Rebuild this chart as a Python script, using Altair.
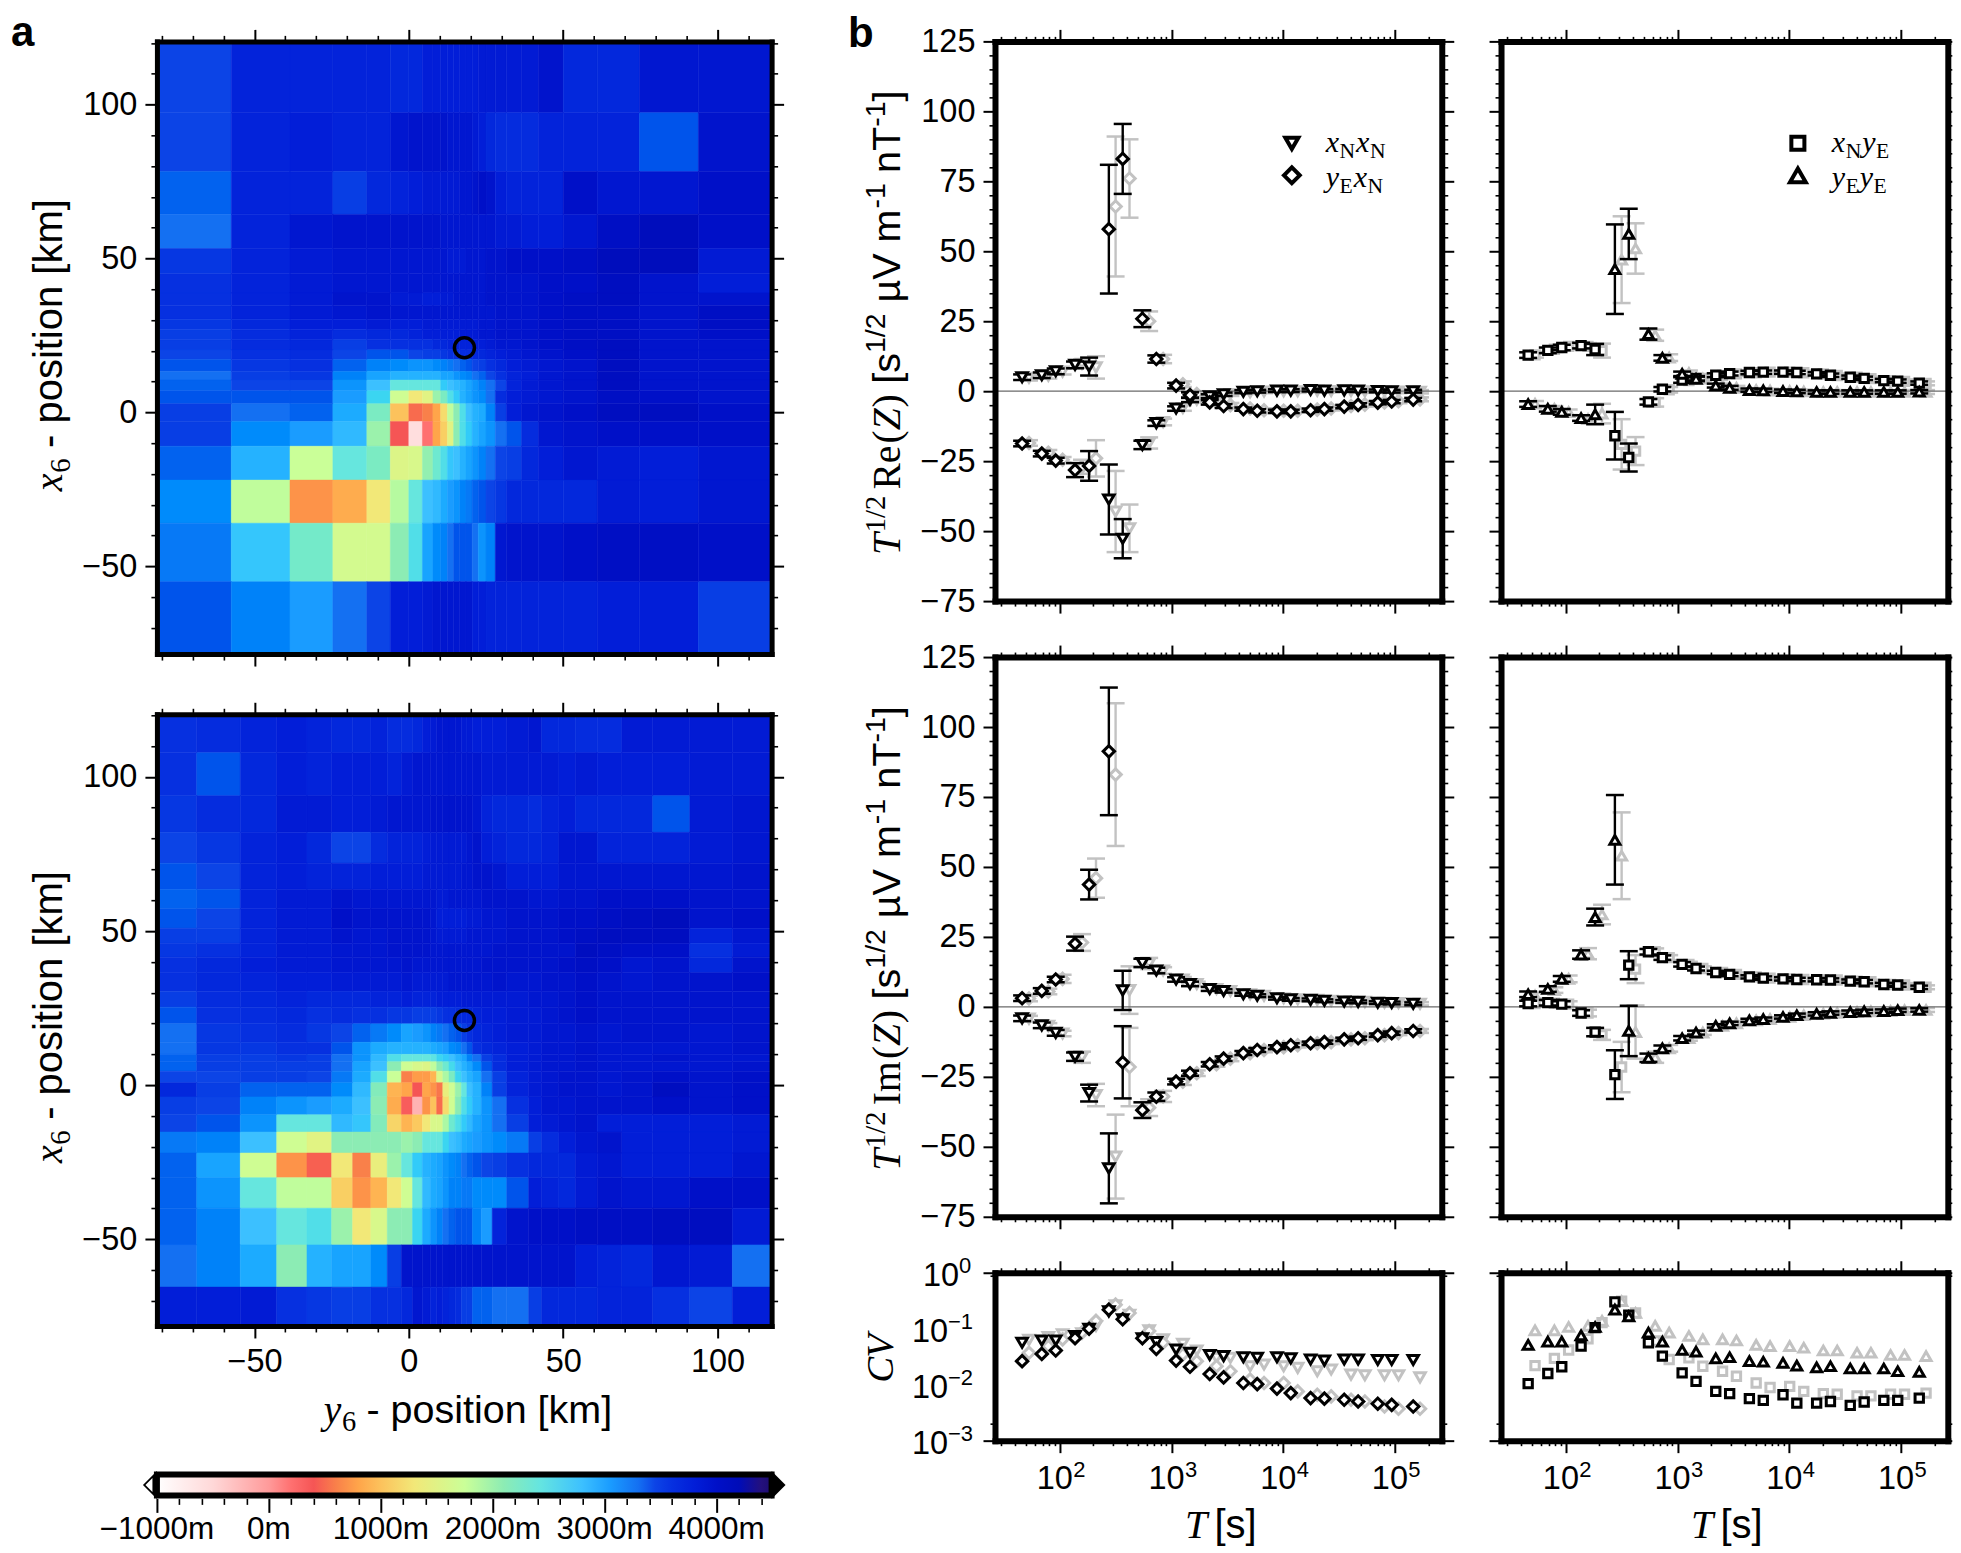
import altair as alt
import pandas as pd

# ---------- periods ----------
T_b = [46,69,92,137,183,275,366,549,732,1100,1465,2200,2930,4400,5860,8800,11700,17600,23400,35200,46900,70300,93700,146000]
T_g = [53,79,106,158,211,316,421,631,842,1265,1685,2530,3370,5060,6740,10100,13500,20200,26900,40500,53900,80800,107800,168000]

# ---------- Re(Z) ----------
xx_re_b = [5,5.7,7.1,9.4,8.8,-38.7,-52.7,-19.2,-11.4,-6.2,-3.1,-1.8,-1.1,-0.2,0,0.2,0.2,0.4,0.2,0.3,0.2,0.1,0,0]
xx_re_be = [1,1,1,1.2,3.2,12.5,7,1.5,1,0.8,0.8,0.7,0.6,0.5,0.5,0.5,0.5,0.5,0.5,0.5,0.5,0.5,0.5,0.5]
xx_re_g = [4.8,5.5,7,9.8,8.5,-43,-49,-18.5,-11,-6,-3,-1.8,-1,-0.4,-0.1,0,0,0.2,0.1,0.1,0,0,-0.1,-0.2]
xx_re_ge = [1,1,1,1.5,4,14.5,8.5,2,1.2,1,1,0.8,0.7,0.6,0.6,0.6,0.6,0.6,0.6,0.6,0.6,0.6,0.6,0.6]
ye_re_b = [-18.7,-22.3,-24.8,-28.2,-26.7,57.9,83,25.9,11.5,2,-1.4,-4,-5.3,-6.4,-7,-7.2,-7.2,-6.8,-6.4,-5.5,-4.9,-4.1,-3.7,-3]
ye_re_be = [1,1,1,2.5,5.3,23,12.5,3,1.3,1,1,0.8,0.7,0.6,0.6,0.6,0.6,0.6,0.6,0.6,0.6,0.6,0.6,0.6]
ye_re_g = [-18.5,-22,-24.5,-27,-24,66,76,25,11.5,2.5,-1,-3.8,-5,-6.2,-6.8,-7,-7,-6.6,-6.2,-5.3,-4.8,-4,-3.6,-2.9]
ye_re_ge = [1,1,1,2.5,6.5,25,14,3.5,1.5,1,1,0.8,0.8,0.7,0.7,0.7,0.7,0.7,0.7,0.7,0.7,0.7,0.7,0.7]
xy_re_b = [12.9,14.6,15.6,16.3,14.9,-15.9,-23.7,-3.8,0.7,4,4.6,5.7,6.3,6.7,6.8,6.8,6.7,6.2,5.7,5,4.6,3.8,3.6,2.9]
xy_re_be = [1,1,1,1,2,8.5,5,1,0.8,1,0.8,0.7,0.7,0.6,0.6,0.6,0.6,0.6,0.6,0.6,0.6,0.6,0.6,0.6]
xy_re_g = [13,15,16,16,14.5,-19,-21.4,-4,0.5,3.8,4.6,5.6,6.2,6.6,6.8,6.8,6.6,6.2,5.6,5,4.5,3.8,3.5,2.8]
xy_re_ge = [1,1,1,1.2,2.5,9,5,1.5,1,1,0.8,0.8,0.7,0.7,0.7,0.7,0.7,0.7,0.7,0.7,0.7,0.7,0.7,0.7]
yy_re_b = [-4.6,-6.3,-7.4,-9.6,-8.3,43.6,56.2,20.4,11.9,6.2,4.4,2,1.2,0.4,0.3,0,-0.1,-0.3,-0.3,-0.3,-0.3,-0.3,-0.3,-0.2]
yy_re_be = [1,1,1,1,3.5,16,9,2,1,0.8,0.8,0.7,0.7,0.6,0.6,0.6,0.6,0.6,0.6,0.6,0.6,0.6,0.6,0.6]
yy_re_g = [-4.5,-6.3,-7.5,-10,-8,47,51,20,12,6.5,4.5,2,1.2,0.4,0.2,0,-0.1,-0.3,-0.3,-0.3,-0.3,-0.3,-0.3,-0.3]
yy_re_ge = [1,1,1,1.2,3.5,15.5,9,2,1.2,0.9,0.8,0.7,0.7,0.7,0.7,0.7,0.7,0.7,0.7,0.7,0.7,0.7,0.7,0.7]

# ---------- Im(Z) ----------
xx_im_b = [-4.1,-6.6,-9.3,-17.8,-30.8,-57.7,5.9,15.7,13,9.8,8.2,6.4,5.7,4.5,4,3.1,2.7,2.5,2.2,1.9,1.8,1.5,1.4,1.1]
xx_im_be = [1,1,1,1.5,3,12.5,7,1.5,1,0.8,0.8,0.7,0.6,0.5,0.5,0.5,0.5,0.5,0.5,0.5,0.5,0.5,0.5,0.5]
xx_im_g = [-4.2,-6.8,-9.5,-18,-31.5,-53.5,6,15.5,13,9.8,8.2,6.4,5.7,4.5,4,3.1,2.7,2.5,2.2,1.9,1.8,1.5,1.4,1.1]
xx_im_ge = [1,1,1,2,4,15,8.5,2,1.2,0.9,0.8,0.7,0.6,0.6,0.6,0.6,0.6,0.6,0.6,0.6,0.6,0.6,0.6,0.6]
ye_im_b = [3.1,5.7,9.8,22.6,43.7,91.3,-19.8,-36.9,-32.1,-26.7,-23.7,-20.5,-18.5,-16.5,-15.4,-14.4,-13.7,-13,-12.6,-11.6,-11.2,-10.1,-9.4,-8.6]
ye_im_be = [1,1,1,2.5,5.3,22.8,12.9,2.8,1.5,1,0.9,0.8,0.8,0.7,0.7,0.7,0.7,0.6,0.6,0.6,0.6,0.6,0.6,0.6]
ye_im_g = [3,5.5,10,23,46,83,-21.5,-36,-32,-26.7,-23.7,-20.5,-18.5,-16.5,-15.4,-14.4,-13.7,-13,-12.6,-11.6,-11.2,-10.1,-9.4,-8.6]
ye_im_ge = [1,1,1.5,3,7,25.5,14,3,2,1.2,1,0.9,0.9,0.8,0.8,0.8,0.8,0.7,0.7,0.7,0.7,0.7,0.7,0.7]
xy_im_b = [1.2,1.5,1,-2.2,-9,-24.2,14.9,19.7,17.6,15.2,13.7,12.3,11.6,10.7,10.3,10,9.8,9.7,9.6,9.2,9,8,7.8,7]
xy_im_be = [1,1,1,1,1.5,8.7,5,1,0.8,0.8,0.7,0.6,0.6,0.6,0.6,0.6,0.6,0.6,0.6,0.6,0.6,0.6,0.6,0.6]
xy_im_g = [1.2,1.3,1,-2.2,-10,-21.5,13.5,19.7,17.6,15.2,13.7,12.3,11.6,10.7,10.3,10,9.8,9.7,9.6,9.2,9,8,7.8,7]
xy_im_ge = [1,1,1,1.2,1.8,9,5,1.2,0.9,0.9,0.8,0.7,0.7,0.7,0.7,0.7,0.7,0.7,0.7,0.7,0.7,0.7,0.7,0.7]
yy_im_b = [4.5,6.4,10,18.7,32.1,59.7,-8.6,-18.2,-14.8,-11.2,-9.2,-6.8,-5.9,-4.8,-4.4,-3.6,-3,-2.5,-2.2,-1.9,-1.6,-1.5,-1.2,-1.1]
yy_im_be = [1,1,1,1.5,3,16,9,1.5,1,0.8,0.7,0.6,0.6,0.6,0.6,0.6,0.6,0.6,0.6,0.6,0.6,0.6,0.6,0.6]
yy_im_g = [4,6,10,19,33,54,-9,-18,-14.8,-11.2,-9.2,-6.8,-5.9,-4.8,-4.4,-3.6,-3,-2.5,-2.2,-1.9,-1.6,-1.5,-1.2,-1.1]
yy_im_ge = [1,1,1.2,2,3.5,15.5,9.5,2,1.2,0.9,0.8,0.7,0.7,0.7,0.7,0.7,0.7,0.7,0.7,0.7,0.7,0.7,0.7,0.7]

# ---------- CV values, read as log10 ----------
xx_cv_b = [-1.25,-1.21,-1.21,-1.13,-1,-0.69,-0.83,-1.17,-1.24,-1.37,-1.43,-1.47,-1.49,-1.51,-1.52,-1.51,-1.53,-1.55,-1.57,-1.55,-1.55,-1.56,-1.56,-1.56]
xx_cv_g = [-1.2,-1.15,-1.1,-1.08,-0.95,-0.58,-0.75,-1.03,-1.19,-1.27,-1.39,-1.52,-1.52,-1.67,-1.64,-1.67,-1.7,-1.76,-1.73,-1.82,-1.83,-1.83,-1.83,-1.87]
ye_cv_b = [-1.58,-1.45,-1.39,-1.17,-1,-0.66,-0.83,-1.17,-1.36,-1.57,-1.68,-1.81,-1.87,-1.97,-1.99,-2.07,-2.15,-2.24,-2.25,-2.27,-2.3,-2.34,-2.36,-2.39]
ye_cv_g = [-1.43,-1.31,-1.19,-1.07,-0.86,-0.57,-0.72,-1.04,-1.25,-1.46,-1.58,-1.67,-1.76,-1.91,-1.97,-1.97,-2.12,-2.18,-2.21,-2.27,-2.3,-2.39,-2.43,-2.43]
xy_cv_b = [-1.98,-1.8,-1.68,-1.31,-0.98,-0.52,-0.76,-1.25,-1.49,-1.79,-1.94,-2.12,-2.16,-2.25,-2.28,-2.18,-2.33,-2.33,-2.3,-2.37,-2.31,-2.28,-2.28,-2.24]
xy_cv_g = [-1.66,-1.53,-1.38,-1.18,-0.89,-0.51,-0.72,-1.22,-1.55,-1.52,-1.67,-1.76,-1.85,-1.97,-2.05,-2.03,-2.12,-2.16,-2.17,-2.2,-2.2,-2.17,-2.17,-2.15]
yy_cv_b = [-1.29,-1.23,-1.23,-1.12,-0.97,-0.66,-0.78,-1.07,-1.23,-1.38,-1.41,-1.53,-1.51,-1.58,-1.59,-1.61,-1.66,-1.69,-1.67,-1.71,-1.71,-1.71,-1.76,-1.77]
yy_cv_g = [-1.03,-1.03,-0.97,-0.95,-0.86,-0.51,-0.72,-0.95,-1.07,-1.13,-1.19,-1.19,-1.21,-1.29,-1.31,-1.31,-1.34,-1.39,-1.39,-1.43,-1.43,-1.47,-1.47,-1.49]

# ---------- bathymetry colour map (depth in m) ----------
cmap_depth = [-1000,-500,0,200,400,600,800,1000,1300,1750,2100,2420,2800,3050,3300,3450,3600,3800,4000,4200,4400,4491]
cmap_color = ['#ffffff','#ffd8d8','#ff9a9a','#ff7070','#f55555','#f9804a','#ffa54a','#fcc25c','#f2e878','#caff98','#8cecb4','#65e5e0','#3cc0ff','#1a9cff','#1470f2','#0c44e6','#0630e0','#021ed8','#0010c8','#000cb8','#24107c','#1c0c70']

# ---------- map 1 (depth in 100 m) ----------
m1_x = [-81.6,-57.5,-38.5,-24.6,-13.6,-6,0,4.4,7.8,10.3,12.5,14.5,16.5,18.5,20.5,22.5,25,28,31.6,36.5,42,50,61,74.7,93.8,117.5]
m1_y = [120.5,97.3,78.2,64.3,53.2,45,38.8,34.6,30.2,26.8,23.6,20.3,17.2,13.3,10.5,7,2.8,-3,-11,-22,-36,-55,-78.5]
m1_z = [
[34.5,37.5,37.5,37.5,37.5,37,37,38,38,38,38,38,38,38,38,38.5,38.5,38.5,38.5,38.5,39.5,37,37,39,39],
[34.5,37.5,38,37.5,37.5,39,39.5,39.5,39.5,39.5,39,39,39,39,38.5,38,37,36.5,36.5,36.5,37.5,37.5,37.5,34,39.5],
[33.5,37.5,37.5,35,37,37.5,38,38.5,38.5,38.5,38.5,38.5,39,39,39.5,40,39.5,38,37.5,37.5,37.5,40,39,39,40],
[33,37.5,39,39.5,39.5,39.5,39.5,39.5,39.5,39,39,39,39,39,39,39,39,38.5,38.5,38,38,39,40.5,41.5,40],
[35.5,37.5,38.5,39,39,39,39,39,39,39,38.5,38.5,38.5,39,39,39,39.5,39.5,40,40,40,40.5,41.5,41.5,38.5],
[36,37.5,38.5,39,39,39,39,39,39,39,39,39,39,39,39,39,39.5,39.5,39.5,39.5,40,40,41,39.5,38],
[36,37.5,38.5,39.5,39.5,38.5,38.5,38,38,38.5,38.5,39,39,39,39,39,39.5,39.5,39.5,39.5,40,40.5,41,39.5,39.5],
[36,37.5,38.5,39,39.5,39,39,39,39,39,39,39,39,39,39,39,39,39.5,39.5,39.5,40,40.5,40.5,39.5,40.5],
[35.5,37,38,38,38.5,38,38,38.5,38.5,38.5,38.5,38.5,38.5,38.5,38.5,39,39,39.5,39.5,39.5,40,40.5,40.5,39.5,40.5],
[35,36.5,37.5,36.5,37,37,37.5,38,38,38,38,38,38.5,38.5,38.5,39,39,39.5,39.5,39.5,40,40.5,40.5,39.5,40],
[35,36.5,37,35,36,36,36,36,37,37,37.5,37.5,37.5,37.5,38,38,38.5,39,39,39.5,40,40.5,41,39.5,39.5],
[34.5,36,36.5,34.5,34,34,34.5,35,35,35.5,36,36,36.5,36.5,37,37,37.5,38,38.5,39,39.5,40,41,39.5,39.5],
[34,35.5,36,33.5,32,31.5,31,31,31.5,32,32.5,33,33.5,34,34.5,35,36,37,38,38.5,39,39.5,41,39.5,39.5],
[33,35,35.5,32,30,29,29,29,29,30,30,31,31.5,32,33,33.5,34.5,36,37.5,38,39,39.5,41,39.5,39.5],
[33.5,34.5,34.5,31,28,24,24,24,24,27,28,28.5,29,30,31,32,33,34.5,37.5,38.5,39,39.5,41,39.5,39.5],
[34,34,34,30.5,26,17,13,15,20,22,25,27,29,30,31,31.5,33,36.5,38,38.5,39,39.5,40.5,40,39.5],
[35,33,33.5,29.5,22,10,5,6,8,12,18,21,25,28,29,29.5,32,35,38,39,39.5,40,41,41,40],
[35,31.5,30.5,28.5,20,4,-6,2,8,11,15,21,25,27,29,30,31,33,34,36.5,39,39.5,40,40,40],
[33.5,29,17.5,24,22,15.5,16,20.5,23,25,27.5,28,29,30,31,32,33,34.5,35,37,38,39,38.5,38,39],
[31.5,18,7,8.5,13,18.5,24,28,28.5,29.5,30.5,31,32,32.5,33.5,34,34.5,35.5,37,37,37,37,38.5,38,39],
[32.5,27.5,22.5,16.5,16.5,21,25,30,31.5,32,33,34,34,34,33,31,32,39,39.5,39.5,39.5,40,40.5,40.5,40],
[34,32,30.5,33,34.5,38,38,38.5,39,39,39,39,39,39,38,38,37.5,37.5,37.5,37.5,37.5,37.5,38,38,35],
]

# ---------- map 2 (depth in 100 m) ----------
m2_x = [-81.6,-68.7,-54.6,-42.8,-33,-25,-18.2,-12.3,-7,-2.4,1.2,4.4,7,9,11,13,15,17,18.8,20.6,23.5,27,31.7,38.8,43,48.6,54,61,69,79,91,104.8,117.5]
m2_y = [120.3,107.8,93.9,82,72,63.5,57.2,50.9,46,41.5,36.5,30.5,25.3,19.9,13.9,10,7.6,4.5,0.8,-3.8,-9.6,-15.2,-22,-30,-39.9,-51.8,-65.5,-78.1]
m2_z = [
[36,36.5,37.5,38,37.5,37,37,37.5,36.5,36.5,37,38,38.5,39,39,39,39,38.5,38.5,38,38,38,38.5,39,37,37,36.5,36.5,38.5,38.5,38.5,38.5],
[36,34,37,38,37.5,38,38,38,37.5,38.5,39,39,39,39,39,39,39,39,39,39,38.5,38.5,38.5,38.5,38.5,38,38.5,38,38,38,38.5,38.5],
[35.5,36.5,37,38.5,38.5,38,38,38.5,39,39,39,39,39.5,39.5,39.5,39.5,39.5,39.5,39.5,39,37.5,37,37,36.5,37.5,38,37,37,37,34,38.5,39],
[34.5,35.5,37.5,38,37,34.5,34.5,36.5,37.5,37.5,37.5,38,38.5,38.5,38.5,38.5,38.5,38.5,39,39.5,38,37.5,37,37,37.5,39,39,37.5,37.5,37.5,38.5,39],
[34,34.5,37.5,38,37.5,37.5,37.5,38,38,38,38,38.5,38.5,38.5,38.5,38.5,38.5,39,39,39.5,39.5,39,38,38,38,39,39,39,39,39,39,39.5],
[33.5,34,37.5,38.5,38.5,39.5,39,39,39,39,39,39,39,38.5,38.5,39,39,39,39,39,39.5,39.5,39.5,39,39,39.5,39.5,40,40,40,39.5,39.5],
[34,34.5,37.5,38.5,38.5,40,39.5,39.5,39.5,39.5,39.5,39.5,39,38,38,38,38,38,38.5,38.5,39,39,39.5,39.5,39.5,40,40,40.5,41,41.5,39.5,40],
[35,35,37.5,38.5,38.5,39.5,39,39,39.5,39.5,39.5,39.5,39,38.5,38.5,38.5,38.5,38.5,39,39,39,39,39.5,39.5,39.5,40,40.5,41,41,41,37.5,39],
[35.5,36,37.5,38.5,38.5,39,39,39,39.5,39.5,39.5,39.5,39,39,39,39,39,39,39,39,39,39.5,39.5,39.5,39.5,39.5,41,40.5,40,40,36,38.5],
[36,37,38,38.5,38.5,39,39,39,39,39.5,39,39,39,39,39,39,39,39,39,39,39.5,39.5,39.5,39.5,39.5,40,40.5,40,39,39.5,37,39.5],
[36,37,37.5,38,38,38.5,38.5,38.5,38.5,39,38.5,38.5,38.5,38.5,38.5,39,39,39,39,39,39,39.5,39,39,39.5,39.5,40,39.5,39,39.5,39.5,40],
[35,36.5,37,37.5,37,37,37,37.5,37.5,38,37.5,37.5,37.5,38,38,38,38,38.5,38.5,38.5,38.5,38.5,38.5,39,39,39.5,40,39.5,39.5,39.5,39.5,39.5],
[34,36,36.5,37,36,36.5,36,36,35.5,35.5,35,35,35,35.5,36,36,36.5,37,37,37.5,38,38,38.5,38.5,39,39.5,40,39.5,39.5,39.5,39.5,39.5],
[33,35.5,36,36.5,35.5,34.5,33.5,32.5,31.5,30,30.5,31,32,32.5,33,33.5,34,35,36,37,37.5,38,38.5,38.5,39,39,39.5,39,39.5,39.5,39,39.5],
[33,35.5,35.5,36,36,34,31,29.5,29,29,29,29,29.5,30,30.5,31.5,32,33,34,36,37,37.5,38,38.5,39,39,39.5,39,39,39,39,39.5],
[33.5,35,35,35.5,35,33,31,28.5,25,24,24,24,24.5,26,27,28,29,30,32,33,35,36.5,38,38.5,39,39,39.5,39,39,39.5,39,39],
[33.5,35,35,35,35,33,30,28,21,17,16,15.5,18,21,23,25.5,28,29,30,31.5,34,36.5,38,38.5,39,39,39.5,39,39,39,39,39.5],
[34.5,34.5,35,35,34.5,32.5,29.5,25,17.5,6,7.5,7.5,9,16,19,22,26,28,29,30,33,35,37.5,38.5,39,39.5,39.5,39,39.5,40,39.5,40],
[37,35,33.5,33.5,33.5,31.5,28.5,21.5,9,8,4,8,7,5.5,14,17,20,24,28,29,32,35,37.5,38.5,39,39.5,39.5,39,39.5,41,39.5,40],
[35,34.5,32,31,30.5,29.5,28,21,8.5,3.5,-2,7,10,5,12,17,21,25,27,29,31,33,36,38,39,39,39.5,39.5,39.5,40,39.5,40],
[34.5,34,31,24,24,28.5,27.5,21.5,11.5,9,10.5,13,16,16,19,23,25,27,28.5,30,31,33,35,38,38.5,39,39.5,38,38,38,38,38.5],
[32.5,32,28,17,15,21,21,21,21,20,21,24,24,24,26,28,28.5,29.5,30,30.5,31,31.5,32.5,35,36.5,38,39,39.5,38,38,38,38.5],
[33.5,30,17,7,4.5,13,6,14,20,24,27,29,29.5,30,31,31.5,32,33,33.5,34,34.5,35,36,37,37,37,38.5,39,38,38,38,39],
[33.5,31,24,18,18,11,7,9,13,17,24,28.5,29.5,30,31,32,32,32.5,32.5,31.5,31.5,31.5,34,38,37.5,37,38.5,39.5,39,39,40,40],
[33.5,32,28,24,25,20,13,16,21,21,26,29.5,31,32,33,33.5,34,34,34,32,30.5,37.5,39.5,40,40,40,40.5,40.5,40.5,41,41,38.5],
[33,32,29.5,21,29,30,30,31.5,35,39.5,39.5,39.5,39.5,39.5,39.5,39.5,39.5,39.5,39.5,39.5,39.5,39.5,39.5,39.5,39.5,39.5,38,37.5,37,39,38.5,33],
[38,38,38.5,36,35.5,35,35,36,36,37,39,38.5,37.5,38,37.5,37,36.5,35,35,33.5,33.5,33,33,35,37,37,37,37.5,37.5,36,34.5,38],
]

site = {'x': [18], 'y': [21]}

# ---------- common ----------
SANS = 'Liberation Sans'
SERIF = 'Liberation Serif'
GRAY = '#c2c2c2'
TICK_FS = 32.5


def fr(**kw):
    return pd.DataFrame(kw)


def axis_layers(xs, ys, xmaj, xmin, ymaj, ymin, xlab, ylab, dw, ms=12, mn=6, xmn=None, rt=None):
    df = fr(x=[xs['domain'][0]], y=[ys['domain'][0]])

    def ax(orient, vals, size, labels, domain, tw):
        return alt.Axis(orient=orient, values=vals, title=None, tickSize=size, tickWidth=tw, tickColor='black',
                        domain=domain, domainWidth=dw, domainColor='black', domainCap='square', labels=labels,
                        labelFontSize=TICK_FS, labelFont=SANS, labelColor='black', labelPadding=8, grid=False, zindex=1,
                        labelFlush=False, labelOverlap=False, format='d')
    xmn = xmn or mn
    specs = [
        (ax('bottom', xmaj, ms, xlab, True, 2), ax('left', ymaj, ms, ylab, True, 2)),
        (ax('top', xmaj, ms, False, True, 2), ax('right', ymaj, rt or ms, False, True, 2)),
        (ax('bottom', xmin, xmn, False, False, 1.6), ax('left', ymin, mn, False, False, 1.6)),
        (ax('top', xmin, xmn, False, False, 1.6), ax('right', ymin, rt or mn, False, False, 1.6)),
    ]
    out = []
    for ax_x, ax_y in specs:
        out.append(alt.Chart(df).mark_point(opacity=0).encode(
            x=alt.X('x:Q', scale=alt.Scale(**xs), axis=ax_x),
            y=alt.Y('y:Q', scale=alt.Scale(**ys), axis=ax_y)))
    return out


def rich(segs, x0, y0, fs, vertical=False):
    """segs: (text, family, style, scale, rise, advance) with rise and advance in em."""
    out, pos = [], 0.0
    for text, fam, style, sc, rise, adv in segs:
        if vertical:
            px, py, ang = x0 - rise * fs, y0 - pos * fs, 270
        else:
            px, py, ang = x0 + pos * fs, y0 - rise * fs, 0
        out.append(alt.Chart(fr(t=[text])).mark_text(
            font=fam, fontStyle=style, fontSize=fs * sc, align='left', baseline='alphabetic',
            angle=ang, color='black').encode(x=alt.value(px), y=alt.value(py), text='t:N'))
        pos += adv
    return out


def anchor(px, py):
    return alt.Chart(fr(a=[0])).mark_point(opacity=0, size=1, strokeWidth=0).encode(x=alt.value(px), y=alt.value(py))


def panel_label(t, px, py):
    return alt.Chart(fr(t=[t])).mark_text(font=SANS, fontWeight='bold', fontSize=42, align='left',
                                          baseline='alphabetic', color='black').encode(
        x=alt.value(px), y=alt.value(py), text='t:N')


def it(t, adv):
    return (t, SERIF, 'italic', 1, 0, adv)


def sub(t, adv):
    return (t, SERIF, 'normal', 0.72, -0.2, adv)


POS_TITLE = lambda v: [(v, SERIF, 'italic', 1, 0, 0.46), ('6', SERIF, 'normal', 0.72, -0.2, 0.62),
                       ('- position [km]', SANS, 'normal', 1, 0, 1)]

# ---------- maps ----------
XS_M = dict(domain=[-81.6, 117.5], nice=False)
MX_MAJ = [-50, 0, 50, 100]
MX_MIN = [-80,-70,-60,-40,-30,-20,-10,10,20,30,40,60,70,80,90,110]
MY_MAJ = [-50, 0, 50, 100]
MY_MIN = [-70,-60,-40,-30,-20,-10,10,20,30,40,60,70,80,90,110,120]


def heat(xe, ye, z, ys):
    rows = []
    for j, row in enumerate(z):
        row = row + [row[-1]] * (len(xe) - 1 - len(row))
        for i in range(len(xe) - 1):
            rows.append(dict(x0=xe[i], x1=xe[i + 1], y0=ye[j], y1=ye[j + 1], v=row[i] * 100))
    cs = alt.Scale(domain=cmap_depth, range=cmap_color, clamp=True)
    return alt.Chart(pd.DataFrame(rows)).mark_rect(strokeWidth=0.5).encode(
        x=alt.X('x0:Q', scale=alt.Scale(**XS_M), axis=None), x2='x1:Q',
        y=alt.Y('y0:Q', scale=alt.Scale(**ys), axis=None), y2='y1:Q',
        color=alt.Color('v:Q', scale=cs, legend=None),
        stroke=alt.Stroke('v:Q', scale=cs, legend=None))


def map_panel(xe, ye, z, xlab, h, extra):
    ys = dict(domain=[ye[-1], ye[0]], nice=False)
    circ = alt.Chart(pd.DataFrame(site)).mark_point(shape='circle', size=400, filled=False, stroke='black',
                                                    strokeWidth=3.5, opacity=1).encode(
        x=alt.X('x:Q', scale=alt.Scale(**XS_M), axis=None), y=alt.Y('y:Q', scale=alt.Scale(**ys), axis=None))
    layers = [heat(xe, ye, z, ys), circ] + axis_layers(XS_M, ys, MX_MAJ, MX_MIN, MY_MAJ, MY_MIN, xlab, True, 5)
    layers += rich(POS_TITLE('x'), -95, h - 163, 40, True) + extra
    return alt.layer(*layers).resolve_axis(x='independent', y='independent').properties(width=615, height=h)


m1 = map_panel(m1_x, m1_y, m1_z, False, 613, [anchor(-148, -32.35), panel_label('a', -146, 4.4)])
m2 = map_panel(m2_x, m2_y, m2_z, True, 612, rich(POS_TITLE('y'), 167, 709, 39.5, False))

sp_sc = alt.Scale(domain=[0, 1])
spacer = alt.Chart(fr(a=[0])).mark_point(opacity=0).encode(
    x=alt.X('a:Q', scale=sp_sc, axis=None), y=alt.Y('a:Q', scale=sp_sc, axis=None)).properties(width=615, height=27.5)

# ---------- colour bar ----------
CB_LO, CB_HI = -1000, 4491
CB_DOM = [-1535.7, 5026.8]
CB_MAJ = [-1000, 0, 1000, 2000, 3000, 4000]
CB_TXT = ['−1000m', '0m', '1000m', '2000m', '3000m', '4000m']
CB_MIN = [-800,-600,-400,-200,200,400,600,800,1200,1400,1600,1800,2200,2400,2600,2800,3200,3400,3600,3800,4200,4400]
CB_H = 71
cb_scale = alt.Scale(domain=CB_DOM, nice=False)
cb_y = alt.Scale(domain=[CB_H, 0], nice=False)
gradient = dict(gradient='linear', x1=0, y1=0, x2=1, y2=0,
                stops=[dict(offset=(d - CB_LO) / (CB_HI - CB_LO), color=c) for d, c in zip(cmap_depth, cmap_color)])
cb_bar = alt.Chart(fr(a=[CB_LO], b=[CB_HI], y0=[0], y1=[21])).mark_rect(fill=gradient, stroke='black', strokeWidth=6).encode(
    x=alt.X('a:Q', scale=cb_scale, axis=None), x2='b:Q', y=alt.Y('y0:Q', scale=cb_y, axis=None), y2='y1:Q')
left_path = 'M0,-1L-1,0L0,1Z'
right_path = 'M0,-1L1,0L0,1Z'
cb_l = alt.Chart(fr(a=[CB_LO], y=[10.5])).mark_point(shape=left_path, size=784, filled=True, fill='black', opacity=1, strokeWidth=0).encode(
    x=alt.X('a:Q', scale=cb_scale, axis=None), y=alt.Y('y:Q', scale=cb_y, axis=None))
cb_li = alt.Chart(fr(a=[CB_LO - 40], y=[10.5])).mark_point(shape=left_path, size=196, filled=True, fill='white', opacity=1, strokeWidth=0).encode(
    x=alt.X('a:Q', scale=cb_scale, axis=None), y=alt.Y('y:Q', scale=cb_y, axis=None))
cb_r = alt.Chart(fr(a=[CB_HI], y=[10.5])).mark_point(shape=right_path, size=784, filled=True, fill='black', opacity=1, strokeWidth=0).encode(
    x=alt.X('a:Q', scale=cb_scale, axis=None), y=alt.Y('y:Q', scale=cb_y, axis=None))
cb_ax1 = alt.Chart(fr(a=[0], y=[10])).mark_point(opacity=0).encode(
    x=alt.X('a:Q', scale=cb_scale, axis=alt.Axis(
        orient='bottom', values=CB_MAJ, title=None, tickSize=14, offset=-47, tickWidth=2, tickColor='black', domain=False,
        labels=False, grid=False)), y=alt.Y('y:Q', scale=cb_y, axis=None))
cb_ax2 = alt.Chart(fr(a=[0], y=[10])).mark_point(opacity=0).encode(
    x=alt.X('a:Q', scale=cb_scale, axis=alt.Axis(
        orient='bottom', values=CB_MIN, title=None, tickSize=6, offset=-47, tickWidth=1.6, tickColor='black', domain=False,
        labels=False, grid=False)), y=alt.Y('y:Q', scale=cb_y, axis=None))
cb_txt = alt.Chart(fr(a=CB_MAJ, t=CB_TXT, y=[64.9] * 6)).mark_text(
    font=SANS, fontSize=31.5, align='center', baseline='alphabetic', color='black').encode(
    x=alt.X('a:Q', scale=cb_scale, axis=None), y=alt.Y('y:Q', scale=cb_y, axis=None), text='t:N')
cb = alt.layer(cb_l, cb_r, cb_li, cb_bar, cb_ax1, cb_ax2, cb_txt).resolve_axis(x='independent').properties(width=735, height=CB_H)

left = alt.vconcat(m1, m2, spacer, cb, spacing=60.25, bounds='flush', center=True)

# ---------- response panels ----------
XS_T = dict(type='log', domain=[26.3, 263000], nice=False)
YS_Z = dict(domain=[-75, 125], nice=False)
YS_C = dict(type='log', domain=[0.001, 1], nice=False)
T_MAJ = [100, 1000, 10000, 100000]
T_MIN = [30,40,50,60,70,80,90,200,300,400,500,600,700,800,900,2000,3000,4000,5000,6000,7000,8000,9000,
         20000,30000,40000,50000,60000,70000,80000,90000,200000]
Z_MAJ = [-75,-50,-25,0,25,50,75,100,125]
Z_MIN = [-70,-65,-60,-55,-45,-40,-35,-30,-20,-15,-10,-5,5,10,15,20,30,35,40,45,55,60,65,70,80,85,90,95,105,110,115,120]
C_MAJ = [0.001, 0.01, 0.1, 1]
C_MIN = [0.002,0.003,0.004,0.005,0.006,0.007,0.008,0.009,0.02,0.03,0.04,0.05,0.06,0.07,0.08,0.09,0.2,0.3,0.4,0.5,0.6,0.7,0.8,0.9]
SYM = {'tdown': ('triangle-down', 110), 'diamond': ('diamond', 130), 'square': ('square', 70), 'tup': ('triangle-up', 100)}
X_T = lambda: alt.X('t:Q', scale=alt.Scale(**XS_T), axis=None)


def errs(t, v, e, color):
    df = fr(t=t, lo=[a - b for a, b in zip(v, e)], hi=[a + b for a, b in zip(v, e)])
    sc = alt.Scale(**YS_Z)
    rule = alt.Chart(df).mark_rule(color=color, strokeWidth=2.4).encode(x=X_T(), y=alt.Y('lo:Q', scale=sc, axis=None), y2='hi:Q')
    c1 = alt.Chart(df).mark_tick(orient='horizontal', color=color, size=18, thickness=2.5, opacity=1).encode(x=X_T(), y=alt.Y('lo:Q', scale=sc, axis=None))
    c2 = alt.Chart(df).mark_tick(orient='horizontal', color=color, size=18, thickness=2.5, opacity=1).encode(x=X_T(), y=alt.Y('hi:Q', scale=sc, axis=None))
    return [rule, c1, c2]


def pts(t, v, sym, color, ys):
    shape, size = SYM[sym]
    return alt.Chart(fr(t=t, v=v)).mark_point(shape=shape, size=size, filled=True, fill='white', stroke=color,
                                              strokeWidth=3, opacity=1).encode(
        x=X_T(), y=alt.Y('v:Q', scale=alt.Scale(**ys), axis=None))


def zero():
    return alt.Chart(fr(z=[0])).mark_rule(color='#6a6a6a', strokeWidth=1.3).encode(y=alt.Y('z:Q', scale=alt.Scale(**YS_Z), axis=None))


def z_panel(series, ylab, extra, rt=None):
    layers = []
    for v, e, sym in series:
        layers += errs(T_g, v[1], e[1], GRAY) + [pts(T_g, v[1], sym, GRAY, YS_Z)]
    layers.append(zero())
    for v, e, sym in series:
        layers += errs(T_b, v[0], e[0], 'black') + [pts(T_b, v[0], sym, 'black', YS_Z)]
    layers += axis_layers(XS_T, YS_Z, T_MAJ, T_MIN, Z_MAJ, Z_MIN, False, ylab, 6, xmn=5, rt=rt) + extra
    return alt.layer(*layers).resolve_axis(x='independent', y='independent').properties(width=447, height=560)


def cv_panel(series, extra, rt=None):
    layers = []
    for b, g, sym in series:
        layers.append(pts(T_g, [10 ** a for a in g], sym, GRAY, YS_C))
    for b, g, sym in series:
        layers.append(pts(T_b, [10 ** a for a in b], sym, 'black', YS_C))
    layers += axis_layers(XS_T, YS_C, T_MAJ, T_MIN, C_MAJ, C_MIN, False, False, 6, mn=5, xmn=5, rt=rt) + extra
    return alt.layer(*layers).resolve_axis(x='independent', y='independent').properties(width=447, height=168)


def ztitle(part):
    segs = [it('T', 0.58), ('1/2', SERIF, 'normal', 0.72, 0.38, 1.08), (part, SERIF, 'normal', 1, 0, 1.17),
            ('(', SERIF, 'normal', 1, 0, 0.33), it('Z', 0.58), (')', SERIF, 'normal', 1, 0, 0.6),
            ('[s', SANS, 'normal', 1, 0, 0.78), ('1/2', SANS, 'normal', 0.72, 0.38, 1.28),
            ('µV m', SANS, 'normal', 1, 0, 2.38), ('-1', SANS, 'normal', 0.72, 0.38, 0.9),
            ('nT', SANS, 'normal', 1, 0, 1.17), ('-1', SANS, 'normal', 0.72, 0.38, 0.64),
            (']', SANS, 'normal', 1, 0, 0.3)]
    return rich(segs, -95, 514, 39.5, True)


def legend(sym1, sym2, size1, size2, t1, t2):
    out = []
    for shape, sz, y in ((sym1, size1, 102), (sym2, size2, 134)):
        out.append(alt.Chart(fr(a=[0])).mark_point(shape=shape, size=sz, filled=True, fill='white', stroke='black',
                                                   strokeWidth=4, opacity=1).encode(x=alt.value(297), y=alt.value(y)))
    out += rich(t1, 331, 111, 30) + rich(t2, 331, 146, 30)
    return out


leg_a = legend('triangle-down', 'diamond', 170, 250,
               [it('x', 0.46), sub('N', 0.55), it('x', 0.46), sub('N', 0.55)],
               [it('y', 0.46), sub('E', 0.47), it('x', 0.46), sub('N', 0.55)])
leg_b = legend('square', 'triangle-up', 170, 250,
               [it('x', 0.46), sub('N', 0.55), it('y', 0.46), sub('E', 0.47)],
               [it('y', 0.46), sub('E', 0.47), it('y', 0.46), sub('E', 0.47)])

A = z_panel([((xx_re_b, xx_re_g), (xx_re_be, xx_re_ge), 'tdown'), ((ye_re_b, ye_re_g), (ye_re_be, ye_re_ge), 'diamond')],
            True, ztitle('Re') + leg_a + [anchor(0, -29.5), panel_label('b', -147, 6)])
B = z_panel([((xy_re_b, xy_re_g), (xy_re_be, xy_re_ge), 'square'), ((yy_re_b, yy_re_g), (yy_re_be, yy_re_ge), 'tup')],
            False, leg_b, rt=4)
C = z_panel([((xx_im_b, xx_im_g), (xx_im_be, xx_im_ge), 'tdown'), ((ye_im_b, ye_im_g), (ye_im_be, ye_im_ge), 'diamond')],
            True, ztitle('Im'))
D = z_panel([((xy_im_b, xy_im_g), (xy_im_be, xy_im_ge), 'square'), ((yy_im_b, yy_im_g), (yy_im_be, yy_im_ge), 'tup')],
            False, [], rt=4)


def t_labels():
    df = fr(t=T_MAJ, a=['10'] * 4, b=['2', '3', '4', '5'])
    l1 = alt.Chart(df).mark_text(font=SANS, fontSize=TICK_FS, align='left', baseline='alphabetic', dx=-23, color='black').encode(
        x=X_T(), y=alt.value(216), text='a:N')
    l2 = alt.Chart(df).mark_text(font=SANS, fontSize=22, align='left', baseline='alphabetic', dx=13.5, color='black').encode(
        x=X_T(), y=alt.value(204), text='b:N')
    return [l1, l2] + rich([it('T', 0.74), ('[s]', SANS, 'normal', 1, 0, 1)], 190, 265, 40)


def c_labels():
    sc = alt.Scale(**YS_C)
    df = fr(c=C_MAJ, a=['10'] * 4, b=['−3', '−2', '−1', '0'], px=[-47, -47, -47, -36])
    out = []
    for row in df.to_dict('records'):
        d = fr(c=[row['c']], a=[row['a']], b=[row['b']])
        out.append(alt.Chart(d).mark_text(font=SANS, fontSize=TICK_FS, align='right', baseline='alphabetic', dy=13, color='black').encode(
            x=alt.value(row['px']), y=alt.Y('c:Q', scale=sc, axis=None), text='a:N'))
        out.append(alt.Chart(d).mark_text(font=SANS, fontSize=22, align='left', baseline='alphabetic', dy=0, color='black').encode(
            x=alt.value(row['px']), y=alt.Y('c:Q', scale=sc, axis=None), text='b:N'))
    return out + rich([('C', SERIF, 'italic', 1, 0, 0.64), ('V', SERIF, 'italic', 1, 0, 0.6)], -102, 110, 39, True)


E = cv_panel([(xx_cv_b, xx_cv_g, 'tdown'), (ye_cv_b, ye_cv_g, 'diamond')], t_labels() + c_labels())
F = cv_panel([(xy_cv_b, xy_cv_g, 'square'), (yy_cv_b, yy_cv_g, 'tup')], t_labels(), rt=4)

right = alt.concat(A, B, C, D, E, F, columns=2, spacing={'row': 56, 'column': 59.3}, bounds='flush')

chart = alt.concat(left, right, columns=2, spacing=16.5).properties(padding=0, background='white').configure_view(stroke=None)
chart.save("out.html", embed_options={"renderer": "svg", "actions": False})
